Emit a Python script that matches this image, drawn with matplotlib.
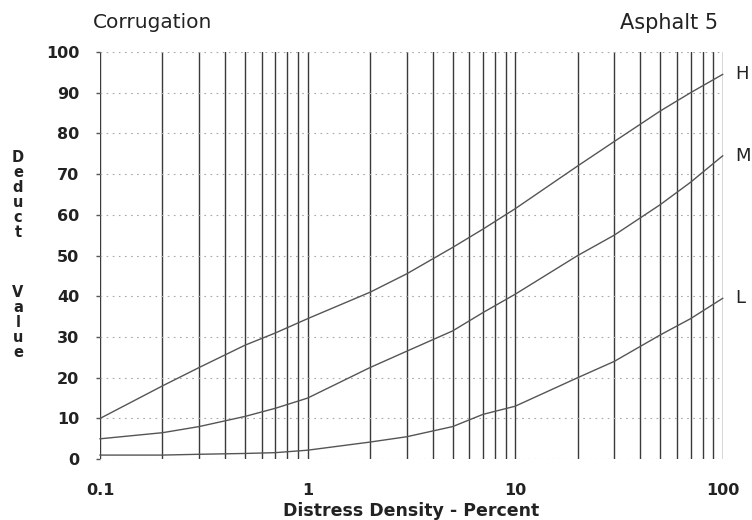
import matplotlib
matplotlib.use("Agg")
import matplotlib.pyplot as plt
from matplotlib.ticker import LogLocator, NullFormatter, FixedLocator

plt.rcParams["font.family"] = ["DejaVu Sans"]

# distress density (%) and deduct values
density = [0.1, 0.2, 0.3, 0.5, 0.7, 1, 2, 3, 5, 7, 10, 20, 30, 50, 70, 100]
high = [10, 18, 22.5, 28, 31, 34.5, 41, 45.5, 52, 56.5, 61.5, 72, 78, 85.5, 90, 94.5]
medium = [5, 6.5, 8, 10.5, 12.5, 15, 22.5, 26.5, 31.5, 36, 40.5, 50, 55, 62.5, 68, 74.5]
low = [1, 1, 1.2, 1.4, 1.6, 2.2, 4.2, 5.5, 8, 11, 13, 20, 24, 30.5, 34.5, 39.5]
curve_labels = ["H", "M", "L"]

x_ticks = [0.1, 1, 10, 100]
x_tick_labels = ["0.1", "1", "10", "100"]
y_ticks = list(range(0, 101, 10))

fig = plt.figure(figsize=(7.52, 5.2), dpi=100)
ax = fig.add_axes([0.133, 0.117, 0.828, 0.783])

ax.set_xscale("log")
ax.set_xlim(0.1, 100)
ax.set_ylim(0, 100)

# vertical lines at every 1..9 of each decade
ax.xaxis.set_major_locator(FixedLocator(x_ticks))
ax.xaxis.set_minor_locator(LogLocator(base=10, subs=range(2, 10), numticks=20))
ax.xaxis.set_minor_formatter(NullFormatter())
ax.set_xticks(x_ticks)
ax.set_xticklabels(x_tick_labels)
ax.grid(True, which="both", axis="x", color="#3a3a3a", lw=1.0, ls="-")
ax.set_yticks(y_ticks)
ax.grid(True, which="major", axis="y", color="#a8a8a8", lw=0.8, ls=(0, (1.5, 4)))

for s in ax.spines.values():
    s.set_visible(False)

ax.tick_params(axis="x", which="both", length=0, pad=17, labelsize=11.5)
ax.tick_params(axis="y", length=3, width=1, color="#555555", pad=12, labelsize=11.5)
for lab in ax.get_xticklabels() + ax.get_yticklabels():
    lab.set_fontweight("bold")
    lab.set_color("#222222")

for ys, name in zip([high, medium, low], curve_labels):
    ax.plot(density, ys, color="#555555", lw=1.0, clip_on=False)
    ax.text(1.02, ys[-1], name, transform=ax.get_yaxis_transform(),
            fontsize=13, color="#222222", va="center", ha="left")

ax.set_xlabel("Distress Density - Percent", fontsize=12.5, fontweight="bold",
              color="#222222", labelpad=3)

fig.text(0.124, 0.956, "Corrugation", fontsize=14.5, color="#222222", va="center")
fig.text(0.955, 0.956, "Asphalt 5", fontsize=15, color="#222222", va="center", ha="right")
fig.text(0.024, 0.51, "D\ne\nd\nu\nc\nt\n\n\n\nV\na\nl\nu\ne", fontsize=10.5,
         fontweight="bold", color="#222222", ha="center", va="center", linespacing=1.0)

fig.savefig("out.png", dpi=100)
